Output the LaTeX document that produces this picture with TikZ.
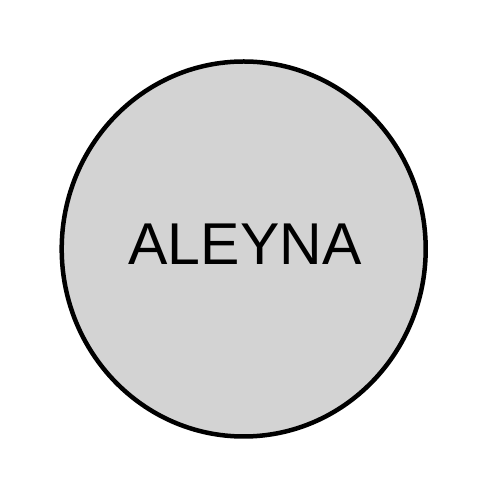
\documentclass[tikz,border=0pt]{standalone}
\usepackage{fontspec}
\setmainfont{Liberation Sans}
\usepackage{tikz}
\usetikzlibrary{shapes.geometric, calc}
\definecolor{nodegray}{HTML}{D3D3D3}
\tikzstyle{name node}=[ellipse, draw=black, fill=nodegray, line width=4.5pt, inner sep=0pt, minimum width=364pt, minimum height=375pt]
\tikzstyle{name text}=[font=\fontsize{59pt}{59pt}\selectfont, inner sep=0pt]

\begin{document}
\begin{tikzpicture}[x=1pt, y=1pt]
    \useasboundingbox (0,0) rectangle (500,500);

    \node [name node] (aleyna) at (243.7,251) {};
    \node [name text] (aleyna-text) at ($(aleyna.center)+(1.3,5)$) {ALEYNA};

  \end{tikzpicture}
\end{document}
